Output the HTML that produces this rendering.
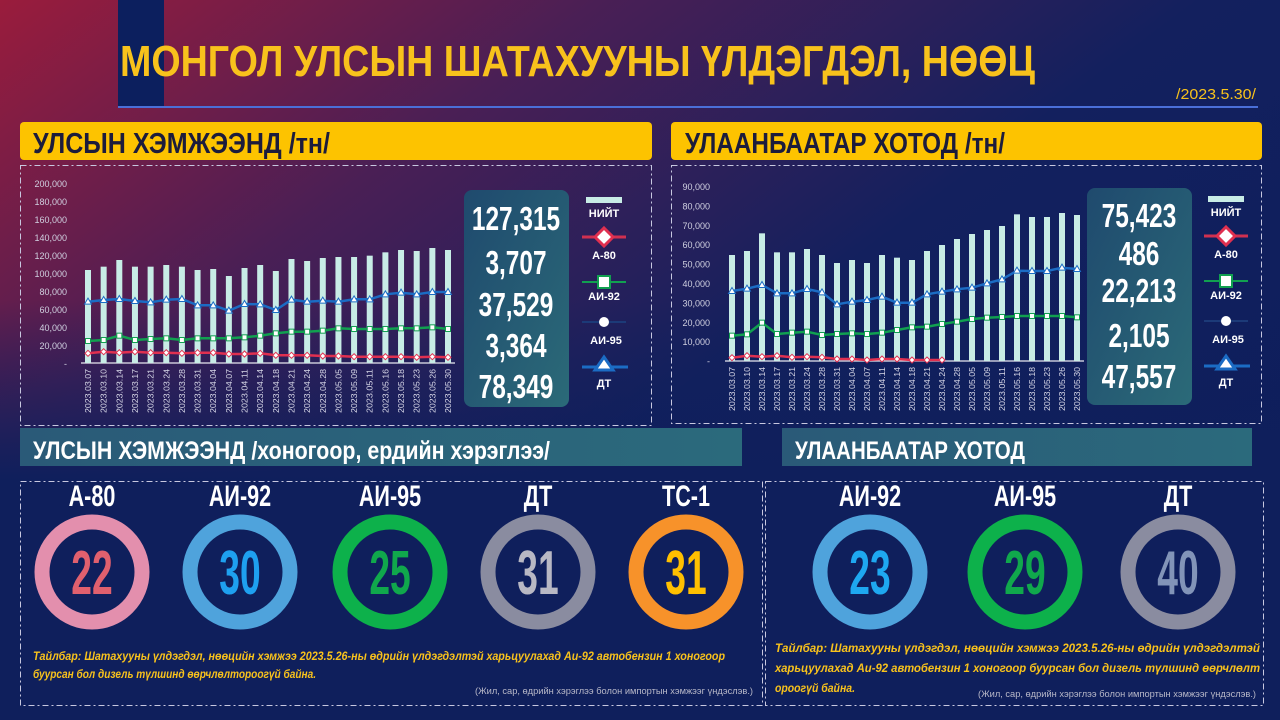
<!DOCTYPE html>
<html><head><meta charset="utf-8"><style>
html,body{margin:0;padding:0;width:1280px;height:720px;overflow:hidden;background:#0f1f5c}
svg{display:block;font-family:"Liberation Sans",sans-serif}
</style></head><body>
<svg id="s" width="1280" height="720" viewBox="0 0 1280 720" xmlns="http://www.w3.org/2000/svg">
<defs>
<linearGradient id="bg" x1="0" y1="0" x2="1" y2="0.75">
<stop offset="0" stop-color="#9a1c3c"/><stop offset="0.3" stop-color="#4a1f55"/><stop offset="0.6" stop-color="#13205e"/><stop offset="1" stop-color="#0d1e5c"/>
</linearGradient>
<linearGradient id="bg2" x1="0" y1="0" x2="0" y2="1">
<stop offset="0" stop-color="#0f1f5c" stop-opacity="0"/><stop offset="1" stop-color="#0f1f5c"/>
</linearGradient>
<linearGradient id="teal" x1="0" y1="0" x2="1" y2="0">
<stop offset="0" stop-color="#2a5a78"/><stop offset="1" stop-color="#2b6a7c"/>
</linearGradient>
<linearGradient id="box" x1="0" y1="0" x2="1" y2="1">
<stop offset="0" stop-color="#1f4a6e"/><stop offset="1" stop-color="#2b6a78"/>
</linearGradient>
</defs>
<rect width="1280" height="720" fill="url(#bg)"/>
<rect y="300" width="1280" height="180" fill="url(#bg2)"/>
<rect y="480" width="1280" height="240" fill="#0f1f5c"/>
<rect x="118" y="0" width="46" height="108" fill="#0c1f5e"/>
<text x="120" y="76" fill="#f8c21c" font-size="44" font-weight="bold" textLength="915" lengthAdjust="spacingAndGlyphs">МОНГОЛ УЛСЫН ШАТАХУУНЫ ҮЛДЭГДЭЛ, НӨӨЦ</text>
<text x="1176" y="99" fill="#f8c21c" font-size="15" textLength="80" lengthAdjust="spacingAndGlyphs">/2023.5.30/</text>
<rect x="118" y="106" width="1140" height="2" fill="#4a6fd8"/>
<rect x="20" y="122" width="632" height="38" rx="4" fill="#fdc300"/>
<rect x="671" y="122" width="591" height="38" rx="4" fill="#fdc300"/>
<text x="33" y="153" fill="#1c1c3c" font-size="29" font-weight="bold" textLength="297" lengthAdjust="spacingAndGlyphs">УЛСЫН ХЭМЖЭЭНД /тн/</text>
<text x="685" y="153" fill="#1c1c3c" font-size="29" font-weight="bold" textLength="320" lengthAdjust="spacingAndGlyphs">УЛААНБААТАР ХОТОД /тн/</text>
<g fill="none" stroke="#c8c8e0" stroke-width="1" stroke-dasharray="6,3,2,3">
<rect x="20.5" y="165.5" width="631" height="260"/>
<rect x="671.5" y="165.5" width="590" height="258"/>
<rect x="20.5" y="481.5" width="742" height="224"/>
<rect x="765.5" y="481.5" width="498" height="224"/>
</g>
<rect x="20" y="428" width="722" height="38" fill="url(#teal)"/>
<rect x="782" y="428" width="470" height="38" fill="url(#teal)"/>
<text x="33" y="459" fill="#fff" font-size="25" font-weight="bold" textLength="517" lengthAdjust="spacingAndGlyphs">УЛСЫН ХЭМЖЭЭНД /хоногоор, ердийн хэрэглээ/</text>
<text x="795" y="459" fill="#fff" font-size="25" font-weight="bold" textLength="230" lengthAdjust="spacingAndGlyphs">УЛААНБААТАР ХОТОД</text>
<rect x="464" y="190" width="105" height="217" rx="8" fill="url(#box)"/>
<rect x="1087" y="188" width="105" height="217" rx="8" fill="url(#box)"/>
<g id="dyn"></g>
<text x="33" y="660" fill="#f8c21c" font-size="12" font-style="italic" font-weight="bold" textLength="692" lengthAdjust="spacingAndGlyphs">Тайлбар: Шатахууны үлдэгдэл, нөөцийн хэмжээ 2023.5.26-ны өдрийн үлдэгдэлтэй харьцуулахад Аи-92 автобензин 1 хоногоор</text>
<text x="33" y="678" fill="#f8c21c" font-size="12" font-style="italic" font-weight="bold" textLength="283" lengthAdjust="spacingAndGlyphs">буурсан бол дизель түлшинд өөрчлөлтороогүй байна.</text>
<text x="475" y="694" fill="#b8b8c8" font-size="9" textLength="278" lengthAdjust="spacingAndGlyphs">(Жил, сар, өдрийн хэрэглээ болон импортын хэмжээг үндэслэв.)</text>
<text x="775" y="652" fill="#f8c21c" font-size="12" font-style="italic" font-weight="bold" textLength="485" lengthAdjust="spacingAndGlyphs">Тайлбар: Шатахууны үлдэгдэл, нөөцийн хэмжээ 2023.5.26-ны өдрийн үлдэгдэлтэй</text>
<text x="775" y="672" fill="#f8c21c" font-size="12" font-style="italic" font-weight="bold" textLength="485" lengthAdjust="spacingAndGlyphs">харьцуулахад Аи-92 автобензин 1 хоногоор буурсан бол дизель түлшинд өөрчлөлт</text>
<text x="775" y="692" fill="#f8c21c" font-size="12" font-style="italic" font-weight="bold" textLength="80" lengthAdjust="spacingAndGlyphs">ороогүй байна.</text>
<text x="978" y="697" fill="#b8b8c8" font-size="9" textLength="278" lengthAdjust="spacingAndGlyphs">(Жил, сар, өдрийн хэрэглээ болон импортын хэмжээг үндэслэв.)</text>
</svg>
<script>
var g=document.getElementById("dyn"),h="";
var dates=["2023.03.07","2023.03.10","2023.03.14","2023.03.17","2023.03.21","2023.03.24","2023.03.28","2023.03.31","2023.04.04","2023.04.07","2023.04.11","2023.04.14","2023.04.18","2023.04.21","2023.04.24","2023.04.28","2023.05.05","2023.05.09","2023.05.11","2023.05.16","2023.05.18","2023.05.23","2023.05.26","2023.05.30"];
function sx(x,s){return ' transform="translate('+x+',0) scale('+s+',1) translate('+(-x)+',0)"';}
function chart(o){
 var n=24,sp=(o.x1-o.x0)/23;
 o.ticks.forEach(function(t,i){h+='<text x="'+o.lx+'" y="'+(o.ty0+i*o.tstep+3)+'" fill="#d0d0e0" font-size="9" text-anchor="end">'+t+'</text>';});
 h+='<line x1="'+(o.x0-7)+'" y1="'+o.ay+'" x2="'+(o.x1+7)+'" y2="'+o.ay+'" stroke="#e8e8f0" stroke-width="1.2"/>';
 for(var i=0;i<n;i++){var x=o.x0+i*sp,t=165+o.bar[i]/3;
  h+='<rect x="'+(x-3)+'" y="'+t+'" width="6" height="'+(o.ay-t)+'" fill="#c8ece6"/>';
  h+='<text transform="translate('+(x+3)+','+(o.ay+50)+') rotate(-90)" fill="#d8d8e8" font-size="8.5" textLength="44" lengthAdjust="spacingAndGlyphs">'+dates[i]+'</text>';}
 function line(arr,col,mk){var p=arr.map(function(v,i){return (o.x0+i*sp).toFixed(1)+','+(165+v/3).toFixed(1)}).join(' ');
  h+='<polyline points="'+p+'" fill="none" stroke="'+col+'" stroke-width="2.5"/>';
  arr.forEach(function(v,i){var x=o.x0+i*sp,y=165+v/3;
   if(mk=="d")h+='<path d="M'+x+' '+(y-3)+'L'+(x+3)+' '+y+'L'+x+' '+(y+3)+'L'+(x-3)+' '+y+'Z" fill="#fff" stroke="'+col+'" stroke-width="1"/>';
   else if(mk=="s")h+='<rect x="'+(x-2.5)+'" y="'+(y-2.5)+'" width="5" height="5" fill="#fff" stroke="'+col+'" stroke-width="1"/>';
   else h+='<path d="M'+x+' '+(y-3.5)+'L'+(x+3.5)+' '+(y+2.5)+'L'+(x-3.5)+' '+(y+2.5)+'Z" fill="#fff" stroke="'+col+'" stroke-width="1"/>';});}
 line(o.dt,"#1b6cc4","t");line(o.a92,"#11a050","s");line(o.a80,"#e03050","d");
 var bx=o.bx;o.vals.forEach(function(v,i){h+='<text x="'+(bx+52)+'" y="'+o.vy[i]+'" fill="#fff" font-size="33" font-weight="bold" text-anchor="middle"'+sx(bx+52,0.74)+'>'+v+'</text>';});
 var L=o.lgx;
 h+='<rect x="'+L+'" y="'+(o.lgy)+'" width="36" height="6" fill="#c8ece6"/><text x="'+(L+18)+'" y="'+(o.lgy+20)+'" fill="#fff" font-size="11" font-weight="bold" text-anchor="middle">НИЙТ</text>';
 var y=o.lgy+40;h+='<line x1="'+(L-4)+'" y1="'+y+'" x2="'+(L+40)+'" y2="'+y+'" stroke="#d03050" stroke-width="3"/><path d="M'+(L+18)+' '+(y-9)+'l9 9l-9 9l-9-9z" fill="#fff" stroke="#e03050" stroke-width="3"/><text x="'+(L+18)+'" y="'+(y+22)+'" fill="#fff" font-size="11" font-weight="bold" text-anchor="middle">А-80</text>';
 y=o.lgy+85;h+='<line x1="'+(L-4)+'" y1="'+y+'" x2="'+(L+40)+'" y2="'+y+'" stroke="#11a050" stroke-width="2"/><rect x="'+(L+12)+'" y="'+(y-6)+'" width="12" height="12" fill="#fff" stroke="#11a050" stroke-width="2"/><text x="'+(L+18)+'" y="'+(y+18)+'" fill="#fff" font-size="11" font-weight="bold" text-anchor="middle">АИ-92</text>';
 y=o.lgy+125;h+='<line x1="'+(L-4)+'" y1="'+y+'" x2="'+(L+40)+'" y2="'+y+'" stroke="#1c3a78" stroke-width="2"/><circle cx="'+(L+18)+'" cy="'+y+'" r="5" fill="#fff"/><text x="'+(L+20)+'" y="'+(y+22)+'" fill="#fff" font-size="11" font-weight="bold" text-anchor="middle">АИ-95</text>';
 y=o.lgy+170;h+='<line x1="'+(L-4)+'" y1="'+y+'" x2="'+(L+42)+'" y2="'+y+'" stroke="#1b6cc4" stroke-width="3"/><path d="M'+(L+18)+' '+(y-10)+'l9 13h-18z" fill="#fff" stroke="#1b6cc4" stroke-width="3"/><text x="'+(L+18)+'" y="'+(y+20)+'" fill="#fff" font-size="11" font-weight="bold" text-anchor="middle">ДТ</text>';
}
chart({x0:88,x1:448,ay:363,lx:67,ty0:184,tstep:18,ticks:["200,000","180,000","160,000","140,000","120,000","100,000","80,000","60,000","40,000","20,000","-"],
 bar:[315,305,285,305,305,300,305,315,312,333,309,300,318,282,288,279,276,276,272,262,255,258,249,255],
 dt:[410,405,402,408,412,404,402,421,421,437,417,418,435,404,410,407,410,403,403,388,383,388,381,381],
 a92:[528,525,512,525,522,520,525,520,520,520,517,512,505,500,500,497,490,492,492,492,490,490,487,492],
 a80:[565,560,563,560,563,563,565,563,563,567,567,565,571,571,571,573,573,575,575,575,575,577,575,577],
 bx:464,vals:["127,315","3,707","37,529","3,364","78,349"],vy:[230,274,316,357,398],lgx:586,lgy:197});
chart({x0:732,x1:1077,ay:361,lx:710,ty0:187,tstep:19.4,ticks:["90,000","80,000","70,000","60,000","50,000","40,000","30,000","20,000","10,000","-"],
 bar:[270,258,205,262,262,252,270,294,285,294,270,278,285,258,240,222,207,195,183,148,156,156,144,150],
 dt:[378,371,360,385,385,372,382,418,410,405,395,413,413,388,380,373,368,355,343,317,318,318,308,312],
 a92:[512,508,473,507,503,500,510,507,505,507,503,495,487,485,477,470,462,458,456,453,453,453,453,457],
 a80:[578,572,575,572,577,575,577,582,582,585,582,582,585,585,585],
 bx:1087,vals:["75,423","486","22,213","2,105","47,557"],vy:[227,265,302,347,388],lgx:1208,lgy:196});
var donuts=[[92,"А-80","22","#e38fad","#e0606e"],[240,"АИ-92","30","#4fa3dc","#1ea0f0"],[390,"АИ-95","25","#0db14b","#10a84c"],[538,"ДТ","31","#8a8ca0","#b8b8c4"],[686,"ТС-1","31","#f7922a","#ffc000"],[870,"АИ-92","23","#4fa3dc","#1ea8f0"],[1025,"АИ-95","29","#0db14b","#10a84c"],[1178,"ДТ","40","#8a8ca0","#8294b8"]];
donuts.forEach(function(d){h+='<text x="'+d[0]+'" y="506" fill="#fff" font-size="30" font-weight="bold" text-anchor="middle"'+sx(d[0],0.72)+'>'+d[1]+'</text>';
 h+='<circle cx="'+d[0]+'" cy="572" r="50" fill="none" stroke="'+d[3]+'" stroke-width="15"/>';
 h+='<text x="'+d[0]+'" y="594" fill="'+d[4]+'" font-size="62" font-weight="bold" text-anchor="middle"'+sx(d[0],0.6)+'>'+d[2]+'</text>';});
g.innerHTML=h;
</script>
</body></html>
